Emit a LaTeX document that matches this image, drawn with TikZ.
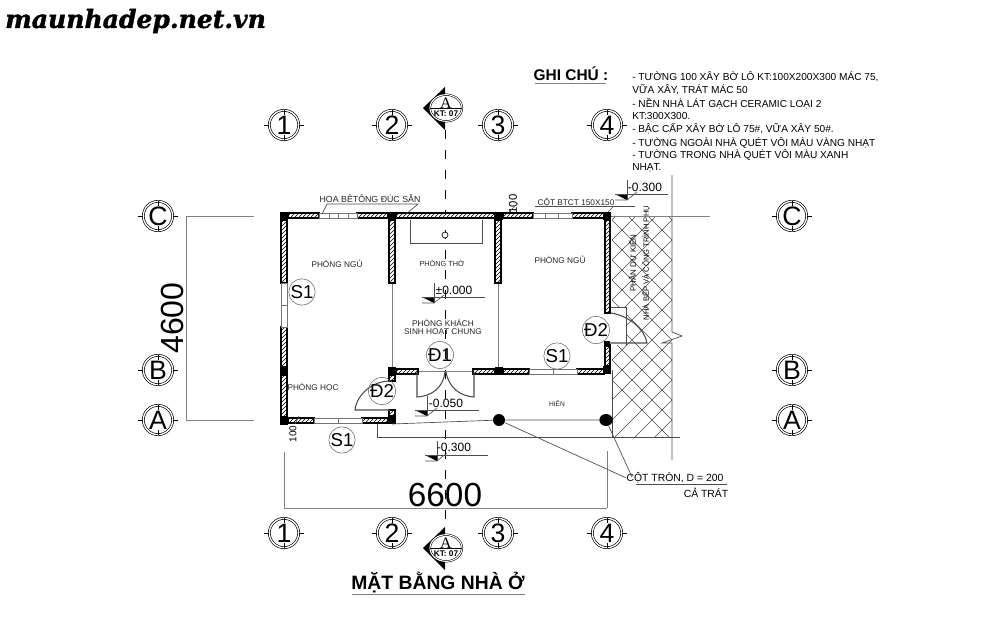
\documentclass[tikz,border=0pt]{standalone}
\usepackage{fontspec}
\setmainfont{Liberation Sans}
\newfontfamily\stampfont[BoldItalicFeatures={FakeBold=1.5}]{DejaVu Serif}
\newfontfamily\heavyfont[UprightFeatures={FakeBold=1.2}]{Liberation Sans}
\newfontfamily\serifletter{Liberation Serif}
\usetikzlibrary{shapes.geometric,patterns}
\newcommand{\pxfont}[1]{\fontsize{#1}{#1}\selectfont}
% level mark: x, y of the vertical stroke, reach of the line to the right
\newcommand{\levelmark}[3]{
  \begin{scope}[shift={(#1,#2)}]
    \fill (-12,0) -- (0,0) -- (0,6) -- cycle;
    \draw[thinline] (-12,0) -- (#3,0);
    \draw[thinline] (0,-14) -- (0,6);
    \draw[thinline] (-12,6) -- (0,6) -- (10,-2);
  \end{scope}
}
\tikzset{
  thinline/.style={line width=.5pt, black!70},
  dimline/.style={line width=.7pt, black!50},
  wallseg/.style={draw, line width=1.1pt, preaction={fill=white}, pattern=north east lines},
  winseg/.style={draw=black!55, line width=.5pt, fill=white},
  colsq/.style={rectangle, fill=black, inner sep=0pt, minimum size=6pt},
  bubble/.style={circle, draw, double, double distance=1pt, line width=.5pt, inner sep=0pt, minimum size=22pt, fill=white, font=\pxfont{20}},
  tagmark/.style={circle, draw=black!60, line width=.4pt, inner sep=0pt, minimum size=18pt, font=\pxfont{14}},
  roomlabel/.style={inner sep=0pt, font=\pxfont{6.2}, black!85},
  notetext/.style={inner sep=0pt, anchor=west, font=\pxfont{7.6}}
}
\begin{document}
\begin{tikzpicture}[x=.75pt, y=-.75pt]
    \useasboundingbox (0,0) rectangle (1000,640);

    % watermark and notes
    \node (stamp) [inner sep=0pt, anchor=west] at (5,21) {\stampfont\bfseries\itshape\pxfont{18.8}maunhadep.net.vn};
    \node (ghichu) [inner sep=0pt, font=\heavyfont\bfseries\pxfont{11.6}] at (571,74) {GHI CHÚ :};
    \draw[dimline] (535,83) -- (606,83);
    \foreach \y/\txt [count=\i] in {
      77/{- TƯỜNG 100 XÂY BỜ LÔ KT:100X200X300 MÁC 75,},
      90/{VỮA XÂY, TRÁT MÁC 50},
      104/{- NỀN NHÀ LÁT GẠCH CERAMIC LOẠI 2},
      116/{KT:300X300.},
      129/{- BẬC CẤP XÂY BỜ LÔ 75\#, VỮA XÂY 50\#.},
      143/{- TƯỜNG NGOÀI NHÀ QUÉT VÔI MÀU VÀNG NHẠT},
      155/{- TƯỜNG TRONG NHÀ QUÉT VÔI MÀU XANH},
      168/{NHẠT.}}
      \node (note\i) [notetext] at (632,\y) {\txt};

    % cross hatching of the planned part
    \begin{scope}
      \clip (612,216) rectangle (672,437);
      \foreach \s in {0,20,...,580} {
        \draw[line width=.45pt, black!70] (612,{\s+120}) -- ++(200,-200);
        \draw[line width=.45pt, black!70] (612,{\s-200}) -- ++(200,200);
      }
    \end{scope}
    \fill[white] (612,307) rectangle (626,345);
    \draw[thinline] (610,307) -- (626,307) -- (626,345);
    \draw[thinline] (672,175) -- (672,332) -- (682,336) -- (662,343) -- (672,343) -- (672,460);
    \draw[dimline] (600,216) -- (710,216);
    \draw[thinline] (612,370) -- (612,437);

    % axis through the section marks, added below
    \coordinate (axisTop) at (445,130);
    \coordinate (axisBot) at (445,528);
    \draw[line width=.6pt, dash pattern=on 7pt off 8pt] (axisTop) -- (axisBot);

    % light lines of open sides
    \draw[dimline] (392,284) -- (392,367);
    \draw[dimline] (498,284) -- (498,367);
    \draw[dimline] (418,371) -- (473,371);

    % altar
    \draw[thinline] (410,220) -- (410,243) -- (482,243) -- (482,220);
    \node (altar) [circle, draw, line width=.5pt, inner sep=0pt, minimum size=4.5pt, fill=white] at (445,235) {};

    % walls
    \foreach \xa/\ya/\xb/\yb in {
      288/213/319/218, 357/213/388/218, 396/213/495/218, 503/213/533/218, 572/213/604/218,
      281/220/287/283, 281/327/287/367, 281/375/287/417,
      389/220/395/283, 495/220/501/283, 605/220/610/313, 605/345/610/366,
      288/418/314/423, 362/418/388/423, 396/369/418/374, 473/369/495/374, 503/369/529/374, 577/369/604/374,
      389/375/395/381, 389/410/395/416}
      \draw[wallseg] (\xa,\ya) rectangle (\xb,\yb);

    % windows
    \foreach \xa/\ya/\xb/\yb in {319/213/357/218, 533/213/572/218, 314/418/362/423, 529/369/577/374, 281/283/287/327}
      \draw[winseg] (\xa,\ya) rectangle (\xb,\yb);
    \draw[winseg] (329,213) -- (329,218) (338,213) -- (338,218) (348,213) -- (348,218);
    \draw[winseg] (545,213) -- (545,218) (558,213) -- (558,218);
    \draw[winseg] (338,418) -- (338,423) (553,369) -- (553,374) (281,305) -- (287,305);

    % columns
    \foreach \x/\y [count=\i] in {284/216, 392/216, 499/216, 607/216, 284/371, 392/371, 499/371, 607/370, 284/421, 392/420}
      \node (col\i) [colsq] at (\x,\y) {};
    \node (round1) [circle, fill=black, inner sep=0pt, minimum size=9pt] at (499,420) {};
    \node (round2) [ellipse, fill=black, inner sep=0pt, minimum width=10pt, minimum height=9pt] at (606,420) {};
    \node (col11) [colsq, minimum size=4pt] at (607,344) {};

    % doors
    \draw[line width=.8pt, black!70] (417,372) -- (417,397) .. controls (432,396) and (443,388) .. (445,372);
    \draw[line width=.8pt, black!70] (474,372) -- (474,397) .. controls (460,396) and (449,388) .. (446,372);
    \draw[line width=.8pt, black!70] (390,410) -- (355,410) .. controls (357,393) and (374,381) .. (390,381);
    \draw[line width=.8pt, black!70] (611,313) .. controls (630,316) and (645,330) .. (647,343) -- (609,343);

    % porch and step
    \draw[thinline] (392,424) -- (round1) -- (round2) -- (612,424);
    \draw[thinline] (377,424) -- (377,437) -- (680,437);

    % dimensions
    \draw[dimline] (186,216) -- (254,216);
    \draw[dimline] (186,420) -- (254,420);
    \draw[dimline] (186,216) -- (186,420);
    \draw[dimline] (284,508) -- (607,508);
    \draw[dimline] (284,452) -- (284,508);
    \draw[dimline] (607,451) -- (607,508);
    \node (dimH) [inner sep=0pt, rotate=90, font=\pxfont{24}] at (172,318) {4600};
    \node (dimW) [inner sep=0pt, font=\pxfont{25}] at (445,495) {6600};
    \node (dimTop) [inner sep=0pt, rotate=90, font=\pxfont{8.5}] at (513,204) {100};
    \node (dimBot) [inner sep=0pt, rotate=90, font=\pxfont{7.5}] at (293,434) {100};
    \draw[thinline] (509,212) -- (518,203) (295,424) -- (299,416);

    % levels
    \levelmark{434}{297}{51}
    \levelmark{627}{194}{41}
    \levelmark{427}{410}{52}
    \levelmark{437}{455}{51}
    \node (lev0) [inner sep=0pt, font=\pxfont{9}] at (454,290) {±0.000};
    \node (lev1) [inner sep=0pt, font=\pxfont{9}] at (645,187) {-0.300};
    \node (lev2) [inner sep=0pt, font=\pxfont{9}] at (446,403) {-0.050};
    \node (lev3) [inner sep=0pt, font=\pxfont{9}] at (454,447) {-0.300};

    % room names
    \node (rm1) [roomlabel] at (337,264) {PHÒNG NGỦ};
    \node (rm2) [roomlabel, font=\pxfont{5.5}] at (442,263) {PHÒNG THỜ};
    \node (rm3) [roomlabel] at (560,260) {PHÒNG NGỦ};
    \node (rm4) [roomlabel] at (443,323) {PHÒNG KHÁCH};
    \node (rm5) [roomlabel] at (443,332) {SINH HOẠT CHUNG};
    \node (rm6) [roomlabel] at (313,388) {PHÒNG HỌC};
    \node (rm7) [roomlabel, font=\pxfont{5}] at (557,404) {HIÊN};
    \node (rm8) [inner sep=0pt, rotate=90, font=\pxfont{5.9}] at (633,263) {PHẦN DỰ KIẾN};
    \node (rm9) [inner sep=0pt, rotate=90, font=\pxfont{5.7}] at (646,263) {NHÀ BẾP VÀ CÔNG TRÌNH PHỤ};

    % notes with leaders
    \node (hoa) [roomlabel, font=\pxfont{6.6}] at (370,199) {HOA BÊTÔNG ĐÚC SẴN};
    \draw[thinline] (322,214) -- (327,204) -- (418,204) -- (405,215);
    \node (cotb) [roomlabel, font=\pxfont{6.2}] at (576,202) {CỘT BTCT 150X150};
    \draw[thinline] (535,206) -- (635,206);
    \draw[thinline] (613,207) -- (608,212);
    \node (cotr) [inner sep=0pt, font=\pxfont{7.8}] at (675,478) {CỘT TRÒN, D = 200};
    \node (catr) [inner sep=0pt, font=\pxfont{7.8}] at (706,493) {CẢ TRÁT};
    \draw[thinline] (636,484) -- (727,484);
    \draw[thinline] (round1) -- (cotr.west);
    \draw[thinline] (round2) -- (632,477);

    % door and window tags
    \foreach \x/\y/\txt [count=\i] in {302/292/S1, 440/355/Đ1, 557/356/S1, 596/330/Đ2, 382/391/Đ2, 342/440/S1}
      \node (tag\i) [tagmark] at (\x,\y) {\txt};

    % grid bubbles
    \foreach \name/\x/\y/\txt in {t1/284/125/1, t2/392/125/2, t3/498/125/3, t4/607/125/4,
      b1/284/533/1, b2/392/533/2, b3/498/533/3, b4/607/533/4,
      lc/158/216/C, lb/158/370/B, la/158/420/A, rc/792/216/C, rb/792/370/B, ra/792/420/A} {
      \node (\name) [bubble] at (\x,\y) {\txt};
      \foreach \a in {0,90,180,270}
        \draw[line width=.5pt] (\name.\a) -- ++(\a:5);
    }

    % section marks
    \foreach \name/\y in {secTop/108, secBot/548} {
      \fill (445,{\y-21}) -- (423,\y) -- (445,{\y+22}) -- cycle;
      \node (\name) [ellipse, draw, double, double distance=.8pt, line width=.4pt, fill=white, inner sep=0pt, minimum width=24pt, minimum height=20pt] at (446,\y) {};
      \draw[line width=.4pt] (\name.west) -- (\name.east);
      \node (\name A) [inner sep=0pt, font=\serifletter\pxfont{12}] at (446,{\y-5}) {A};
      \node (\name K) [inner sep=0pt, font=\bfseries\pxfont{6.2}] at (446,{\y+6}) {KT: 07};
    }

    % title
    \node (title) [inner sep=0pt, font=\bfseries\pxfont{14.5}] at (438,583) {MẶT BẰNG NHÀ Ở};
    \draw[dimline] (352,594) -- (525,594);
  \end{tikzpicture}
\end{document}
